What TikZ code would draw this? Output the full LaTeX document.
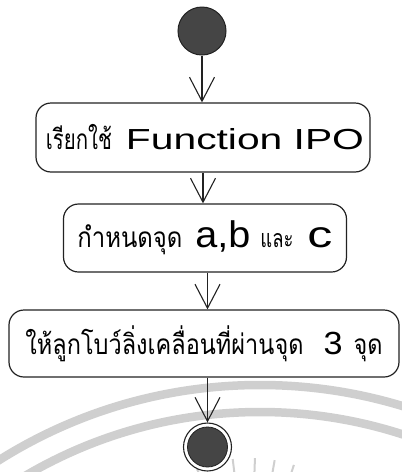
\documentclass[tikz,border=0pt]{standalone}
\usepackage{fontspec}
\usepackage{graphicx}
\setmainfont{Liberation Sans}
\newfontfamily\thai[Script=Thai]{Loma}
\usetikzlibrary{arrows.meta}
\definecolor{ink}{HTML}{222222}
\definecolor{dot}{HTML}{454545}
\definecolor{wmark}{HTML}{CFCFCF}
\newcommand\fitw[2]{\resizebox{#1}{\height}{#2}}
\newcommand\thtxt[2]{{\thai\fontsize{#1}{#1}\selectfont #2}}
\newcommand\latxt[2]{{\fontsize{#1}{#1}\selectfont #2}}
\tikzset{
  actbox/.style={draw=ink, line width=1.2pt, rounded corners=15pt, inner sep=0pt},
  flow/.style={draw=ink, line width=1.1pt, -{Straight Barb[length=24pt,width=25pt,line width=1.1pt]}},
  wm/.style={draw=wmark, line width=8.5pt},
  ray/.style={draw=wmark, line width=2pt}
}
\begin{document}
\begin{tikzpicture}[x=1pt,y=-1pt]
\useasboundingbox (0,0) rectangle (402,472);
% watermark
\begin{scope}
\clip (0,0) rectangle (402,472);
\draw[wm] (260,875) circle[radius=490];
\draw[wm] (260,875) circle[radius=463];
\foreach \a in {-112,-97,-88,-80,-72,-64}
  \draw[ray] (250,600) ++(\a:128) -- ++(\a:14);
\end{scope}
% start
\node[circle, draw=ink, fill=dot, line width=1pt, minimum size=48pt, inner sep=0pt] (start) at (202,31) {};
% boxes
\node[actbox, minimum width=334pt, minimum height=69pt] (b1) at (203,137.5)
  {\hspace{4pt}\fitw{66pt}{\thtxt{28}{เรียกใช้}}\hspace{14pt}\fitw{238pt}{\latxt{29}{Function IPO}}};
\node[actbox, minimum width=283pt, minimum height=68pt] (b2) at (205,238)
  {\fitw{105pt}{\thtxt{28}{กำหนดจุด}}\hspace{13pt}\fitw{55pt}{\latxt{37}{a,b}}\hspace{10pt}\fitw{33pt}{\thtxt{25}{และ}}\hspace{14pt}\fitw{25pt}{\latxt{37}{c}}\hspace{4pt}};
\node[actbox, minimum width=390pt, minimum height=67pt] (b3) at (204,343.5)
  {\fitw{278pt}{\thtxt{28}{ให้ลูกโบว์ลิ่งเคลื่อนที่ผ่านจุด}}\hspace{20pt}\fitw{19pt}{\latxt{32}{3}}\hspace{11pt}\fitw{29pt}{\thtxt{28}{จุด}}\hspace{9pt}};
% end
\node[circle, draw=ink, line width=1.1pt, minimum size=48pt, inner sep=0pt] (fin) at (207.5,447) {};
\node[circle, draw=ink, fill=dot, line width=0.8pt, minimum size=40pt, inner sep=0pt] (finc) at (fin.center) {};
% connectors
\draw[flow] (start.south) -- (start.south |- b1.north);
\draw[flow] (b1.south) -- (b1.south |- b2.north);
\draw[flow] (b2.south -| fin.north) -- (b3.north -| fin.north);
\draw[flow] (b3.south -| fin.north) -- (fin.north);
\end{tikzpicture}
\end{document}
